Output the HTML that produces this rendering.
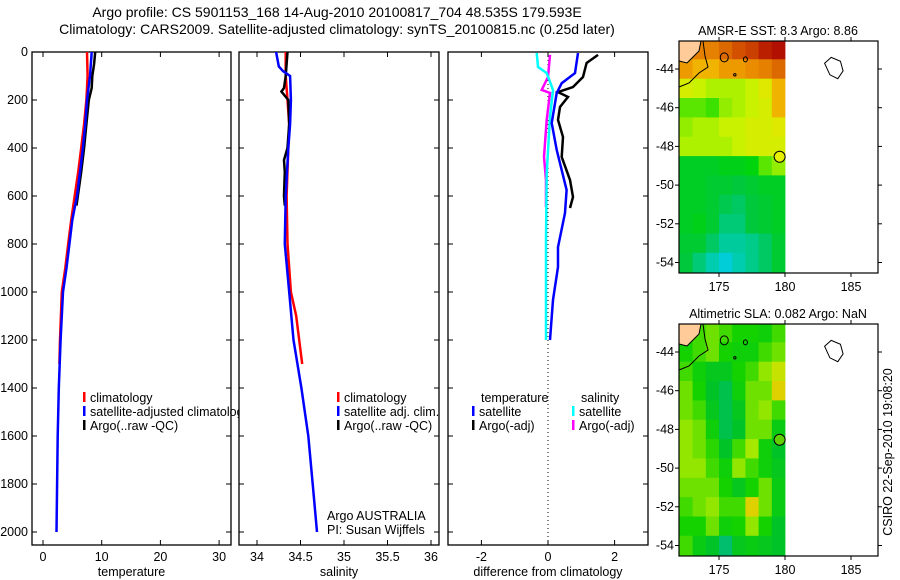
<!DOCTYPE html>
<html><head><meta charset="utf-8">
<style>
html,body{margin:0;padding:0;background:#fff;}
svg{display:block;font-family:"Liberation Sans",sans-serif;}
text{fill:#000;}
</style></head>
<body>
<svg id="fig" width="900" height="580" viewBox="0 0 900 580" xmlns="http://www.w3.org/2000/svg">
<text x="337" y="17" font-size="14" text-anchor="middle">Argo profile: CS 5901153_168 14-Aug-2010 20100817_704 48.535S 179.593E</text>
<text x="337" y="34" font-size="14" text-anchor="middle">Climatology: CARS2009. Satellite-adjusted climatology: synTS_20100815.nc (0.25d later)</text>
<g id="g"></g>
</svg>
<script>
// ---- profile data (depth in m) ----
const tBlueDepth=[0,100,200,300,400,500,600,700,800,900,1000,1200,1400,1600,1800,2000];
const tBlueVal=[8.3,8.0,7.5,7.2,6.8,6.3,5.8,5.0,4.5,4.0,3.4,3.0,2.7,2.5,2.4,2.3];
const tRedDepth=[0,100,200,300,400,500,600,700,800,900,1000,1200,1300];
const tRedVal=[7.5,7.6,7.4,7.0,6.5,6.0,5.4,4.8,4.3,3.8,3.2,2.9,2.8];
const tBlackDepth=[0,50,100,150,200,300,400,500,640];
const tBlackVal=[8.9,8.7,8.4,8.3,7.8,7.4,7.0,6.5,5.7];
const sBlueDepth=[0,60,80,100,200,300,400,600,800,1000,1200,1400,1600,1800,2000];
const sBlueVal=[34.22,34.25,34.30,34.38,34.39,34.38,34.36,34.33,34.32,34.37,34.42,34.51,34.59,34.64,34.69];
const sRedDepth=[0,100,200,300,600,800,1000,1100,1300];
const sRedVal=[34.33,34.33,34.35,34.37,34.34,34.35,34.39,34.45,34.52];
const sBlackDepth=[0,50,100,150,165,200,300,400,450,500,600,640];
const sBlackVal=[34.35,34.34,34.33,34.31,34.28,34.36,34.37,34.35,34.31,34.32,34.31,34.32];
const dTsatDepth=[4,88,130,171,296,408,575,671,813,896,1033,1200];
const dTsatVal=[0.9,0.81,0.41,0.26,0.11,0.26,0.56,0.51,0.3,0.3,0.15,0.06];
const dTargoDepth=[12,46,104,146,167,187,229,283,354,437,533,604,650];
const dTargoVal=[1.5,1.16,1.05,0.75,0.3,0.6,0.36,0.3,0.45,0.41,0.66,0.75,0.66];
const dSsatDepth=[4,62,88,158,271,504,783,1063,1200];
const dSsatVal=[-0.34,-0.3,-0.04,0.15,0.06,-0.04,-0.06,-0.06,-0.06];
const dSargoDepth=[12,104,158,171,283,437,533,646];
const dSargoVal=[0.06,0.0,-0.19,0.06,-0.04,-0.12,-0.06,-0.06];
const depthTicks=[0,200,400,600,800,1000,1200,1400,1600,1800,2000];
const tempTicks=[0,10,20,30];
const salTicks=[34,34.5,35,35.5,36];
const salTickLabels=["34","34.5","35","35.5","36"];
const diffTicks=[-2,0,2];
// ---- map data: rows lat -43..-54 (1 deg), cols lon 172..179 ----
const mapLats=[-43,-44,-45,-46,-47,-48,-49,-50,-51,-52,-53,-54];
const mapLons=[172,173,174,175,176,177,178,179];
const sstGrid=[
[10,10,10,10.2,10.4,10.5,10.7,10.8],
[9.8,9.6,9.6,9.8,9.8,9.9,10,10.2],
[9.1,9.0,8.9,8.9,8.9,9.0,9.2,9.6],
[8.6,8.6,8.5,8.8,8.9,9.0,9.1,9.6],
[8.8,8.9,8.9,9.0,9.0,9.1,9.1,9.2],
[8.9,8.9,8.9,8.9,9.0,9.1,9.1,9.1],
[8.0,8.0,8.0,8.1,8.1,8.2,8.6,8.8],
[8.0,8.0,7.9,7.9,7.8,7.9,8.0,8.0],
[8.0,8.0,7.9,7.7,7.6,7.8,7.9,8.0],
[8.0,8.1,7.9,7.5,7.5,7.8,7.9,8.0],
[7.9,7.9,7.6,7.3,7.3,7.4,7.6,7.9],
[7.8,7.5,7.2,7.0,7.2,7.4,7.6,7.9]];
const slaGrid=[
[0.08,0.08,0.1,0.08,0.06,0.06,0.05,0.08],
[0.06,0.08,0.1,0.06,0.05,0.05,0.08,0.1],
[0.08,0.05,0.03,0.03,0.06,0.08,0.12,0.15],
[0.1,0.06,0.02,0.0,0.05,0.1,0.1,0.17],
[0.1,0.08,0.03,0.0,0.03,0.1,0.12,0.08],
[0.12,0.1,0.05,0.0,0.02,0.1,0.1,0.04],
[0.12,0.1,0.07,0.02,0.08,0.13,0.05,0.02],
[0.12,0.12,0.08,0.05,0.12,0.08,0.05,0.03],
[0.1,0.1,0.1,0.06,0.03,0.06,0.1,0.04],
[0.08,0.1,0.12,0.08,0.08,0.17,0.1,0.04],
[0.06,0.06,0.1,0.05,0.06,0.12,0.06,0.02],
[0.08,0.04,0.02,-0.02,0.03,0.04,0.03,0.02]];
const mapLatTicks=[-44,-46,-48,-50,-52,-54];
const mapLonTicks=[175,180,185];
const argoLon=179.593, argoLat=-48.535;

const NS="http://www.w3.org/2000/svg";
const G=document.getElementById('g');
function el(tag,attrs,parent){const e=document.createElementNS(NS,tag);for(const k in attrs)e.setAttribute(k,attrs[k]);(parent||G).appendChild(e);return e;}
function txt(x,y,s,size,anchor,parent){const t=el('text',{x:x,y:y,'font-size':size||12,'text-anchor':anchor||'start'},parent);t.textContent=s;return t;}

const Y0=52, YS=0.24;
function yD(d){return Y0+d*YS;}
const PT=52, PB=545;

function panel(name,x0,x1,xf,ticks,labels,showY,xlabel){
  const g=el('g',{});
  
  
  const r=el('rect',{x:x0,y:PT,width:x1-x0,height:PB-PT,fill:'#fff',stroke:'#000','stroke-width':1.3},g);
  
  
  ticks.forEach((v,i)=>{const x=xf(v);
    el('line',{x1:x,y1:PB,x2:x,y2:PB-5,stroke:'#000'},g);
    el('line',{x1:x,y1:PT,x2:x,y2:PT+5,stroke:'#000'},g);
    const t=txt(x,PB+16,labels[i],12.5,'middle',g);
    
    
  });
  depthTicks.forEach(d=>{const y=yD(d);
    el('line',{x1:x0,y1:y,x2:x0+5,y2:y,stroke:'#000'},g);
    el('line',{x1:x1,y1:y,x2:x1-5,y2:y,stroke:'#000'},g);
    if(showY){const t=txt(x0-4,y+4,String(d),12.5,'end',g);
      
      }
  });
  const xl=txt((x0+x1)/2,PB+31,xlabel,12.5,'middle',g);
  
  
  return g;
}
function series(g,name,depths,vals,xf,color,w){
  const pts=depths.map((d,i)=>xf(vals[i]).toFixed(1)+','+yD(d).toFixed(1)).join(' ');
  const p=el('polyline',{points:pts,fill:'none',stroke:color,'stroke-width':w||2.5,'stroke-linejoin':'miter'},g);
  
  
}
function legend(g,x,y,color,label,name){
  if(color){const b=el('rect',{x:x,y:y-10,width:2.5,height:10,fill:color},g);
    
    }
  const t=txt(x+7,y,label,12.5,'start',g);
  
  
}

const xT=v=>43+v*5.87;
const p1=panel('temperature-panel',32,231,xT,tempTicks,tempTicks.map(String),true,'temperature');
series(p1,'temp-climatology-line',tRedDepth,tRedVal,xT,'#f00');
series(p1,'temp-argo-line',tBlackDepth,tBlackVal,xT,'#000');
series(p1,'temp-satellite-line',tBlueDepth,tBlueVal,xT,'#00f');
legend(p1,83,402,'#f00','climatology','legend-climatology');
legend(p1,83,416,'#00f','satellite-adjusted climatology','legend-satellite');
legend(p1,83,430,'#000','Argo(..raw -QC)','legend-argo');

const xS=v=>257+(v-34)*87;
const p2=panel('salinity-panel',239,439,xS,salTicks,salTickLabels,false,'salinity');
series(p2,'sal-climatology-line',sRedDepth,sRedVal,xS,'#f00');
series(p2,'sal-argo-line',sBlackDepth,sBlackVal,xS,'#000');
series(p2,'sal-satellite-line',sBlueDepth,sBlueVal,xS,'#00f');
legend(p2,337,402,'#f00','climatology','legend-climatology');
legend(p2,337,416,'#00f','satellite adj. clim.','legend-satellite');
legend(p2,337,430,'#000','Argo(..raw -QC)','legend-argo');
const a1=txt(327,520,'Argo AUSTRALIA',12.5,'start',p2);


const a2=txt(327,534,'PI: Susan Wijffels',12.5,'start',p2);



const xDf=v=>548+v*33.3;
const p3=panel('difference-panel',448,648,xDf,diffTicks,diffTicks.map(String),false,'difference from climatology');
const zl=el('line',{x1:xDf(0),y1:PT,x2:xDf(0),y2:PB,stroke:'#000','stroke-dasharray':'1,3'},p3);


series(p3,'diff-temp-argo-line',dTargoDepth,dTargoVal,xDf,'#000');
series(p3,'diff-sal-argo-line',dSargoDepth,dSargoVal,xDf,'#f0f');
series(p3,'diff-sal-satellite-line',dSsatDepth,dSsatVal,xDf,'#0ff');
series(p3,'diff-temp-satellite-line',dTsatDepth,dTsatVal,xDf,'#00f');
legend(p3,474,402,null,'temperature','legend-temperature-header');
legend(p3,472,416,'#00f','satellite','legend-temp-satellite');
legend(p3,472,430,'#000','Argo(-adj)','legend-temp-argo');
legend(p3,574,402,null,'salinity','legend-salinity-header');
legend(p3,572,416,'#0ff','satellite','legend-sal-satellite');
legend(p3,572,430,'#f0f','Argo(-adj)','legend-sal-argo');

function lerp(a,b,t){return a+(b-a)*t;}
function cmap(stops,v){
  if(v<=stops[0][0])return stops[0][1];
  for(let i=1;i<stops.length;i++){if(v<=stops[i][0]){const t=(v-stops[i-1][0])/(stops[i][0]-stops[i-1][0]);
    const a=stops[i-1][1],b=stops[i][1];return [0,1,2].map(k=>Math.round(lerp(a[k],b[k],t)));}}
  return stops[stops.length-1][1];
}
const sstStops=[[7.0,[0,205,215]],[7.8,[0,200,60]],[8.3,[0,215,0]],[8.7,[120,235,0]],[9.0,[200,242,0]],[9.3,[235,228,0]],[9.6,[240,180,0]],[9.9,[235,140,0]],[10.4,[210,80,0]],[10.9,[170,0,0]]];
const slaStops=[[-0.02,[0,190,110]],[0.02,[0,195,40]],[0.06,[20,210,0]],[0.1,[110,225,0]],[0.14,[185,235,0]],[0.18,[235,200,0]]];
function map(name,top,title,grid,stops,markerFill){
  const L=679,R=878,B=top+232;
  const xL=lon=>719+(lon-175)*13.2;
  const yL=lat=>top+28+(-44-lat)*19.35;
  const g=el('g',{});
  
  
  const tt=txt(778,top-6,title,12.5,'middle',g);
  
  
  el('rect',{x:L,y:top,width:R-L,height:B-top,fill:'#fff'},g);
  const cg=el('g',{},g);
  grid.forEach((row,i)=>row.forEach((v,j)=>{
    const lat=mapLats[i], lon=mapLons[j];
    const x=xL(lon), y0=Math.max(top,yL(lat+0.5)), y1=Math.min(B,yL(lat-0.5));
    const c=cmap(stops,v);
    const r=el('rect',{x:x.toFixed(1),y:y0.toFixed(1),width:13.6,height:(y1-y0+0.5).toFixed(1),fill:'rgb('+c.join(',')+')'},cg);
    
    
  }));
  const land=el('path',{d:`M${L},${top} L${L+22},${top} L${L+20},${top+10} L${L+14},${top+16} L${L+8},${top+22} L${L},${top+20} Z`,fill:'#ffcc99',stroke:'none'},g);
  
  
  el('path',{d:`M${L},${top+20} L${L+8},${top+22} L${L+14},${top+16} L${L+20},${top+10} L${L+22},${top}`,fill:'none',stroke:'#000'},g);
  el('path',{d:`M${L},${top+46} L${L+10},${top+42} L${L+20},${top+32} L${L+29},${top+26} L${L+26},${top+15} L${L+24},${top}`,fill:'none',stroke:'#000'},g);
  el('ellipse',{cx:xL(175.4),cy:yL(-43.4),rx:4,ry:4.5,fill:'none',stroke:'#000'},g);
  el('ellipse',{cx:xL(177),cy:yL(-43.5),rx:2,ry:2.5,fill:'none',stroke:'#000'},g);
  el('ellipse',{cx:xL(176.2),cy:yL(-44.3),rx:1.2,ry:1.2,fill:'none',stroke:'#000'},g);
  const ch=el('path',{d:`M${xL(183)},${yL(-43.7)} L${xL(183.5)},${yL(-43.4)} L${xL(184.2)},${yL(-43.6)} L${xL(184.4)},${yL(-44.1)} L${xL(184)},${yL(-44.5)} L${xL(183.4)},${yL(-44.3)} Z`,fill:'none',stroke:'#000'},g);
  
  
  const m=el('circle',{cx:xL(argoLon),cy:yL(argoLat),r:5.5,fill:markerFill,stroke:'#000'},g);
  
  
  el('rect',{x:L,y:top,width:R-L,height:B-top,fill:'none',stroke:'#000','stroke-width':1.2},g);
  mapLatTicks.forEach(lat=>{const y=yL(lat);
    el('line',{x1:L-4,y1:y,x2:L,y2:y,stroke:'#000'},g);
    el('line',{x1:R,y1:y,x2:R+4,y2:y,stroke:'#000'},g);
    const t=txt(L-5,y+4,String(lat),12.5,'end',g);
    
    });
  mapLonTicks.forEach(lon=>{const x=xL(lon);
    el('line',{x1:x,y1:B,x2:x,y2:B+4,stroke:'#000'},g);
    el('line',{x1:x,y1:top-4,x2:x,y2:top,stroke:'#000'},g);
    const t=txt(x,B+18,String(lon),12.5,'middle',g);
    
    });
}
map('sst-map',41,'AMSR-E SST: 8.3 Argo: 8.86',sstGrid,sstStops,'#e6f000');
map('sla-map',324,'Altimetric SLA: 0.082 Argo: NaN',slaGrid,slaStops,'#60d000');
const cs=txt(0,0,'CSIRO 22-Sep-2010 19:08:20',12.5,'middle');
cs.setAttribute('transform','translate(892,452) rotate(-90)');


</script>
</body></html>
